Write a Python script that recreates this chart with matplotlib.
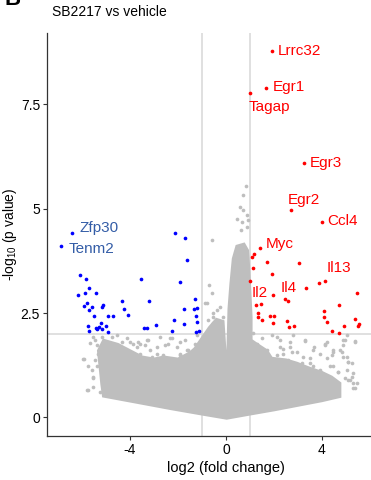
import matplotlib.pyplot as plt

plt.rcParams['font.family'] = ['Liberation Sans', 'DejaVu Sans']
plt.rcParams['mathtext.fontset'] = 'custom'
plt.rcParams['mathtext.rm'] = 'Liberation Sans'

# significant up (red)
up_x = [1.93, 1.67, 1.00, 3.24, 2.72, 3.99, 1.42, 4.12, 3.33, 1.97,
        1.10, 1.16, 1.70, 3.03, 1.11, 1.90, 1.00, 3.875, 2.47, 2.57,
        5.44, 1.24, 1.47, 4.72, 1.33, 4.08, 1.33, 1.49, 1.82, 1.99,
        1.96, 2.53, 2.63, 2.83, 4.08, 4.22, 5.375, 5.55, 5.52, 4.93,
        4.40, 4.72]
up_y = [8.77, 7.89, 7.76, 6.08, 4.96, 4.68, 4.06, 3.27, 3.10, 2.94,
        3.85, 3.92, 3.73, 3.69, 3.58, 3.43, 3.26, 3.22, 2.83, 2.78,
        2.97, 2.69, 2.71, 2.70, 2.49, 2.55, 2.40, 2.33, 2.42, 2.44,
        2.27, 2.32, 2.17, 2.19, 2.41, 2.29, 2.36, 2.24, 2.20, 2.19,
        2.07, 2.03]

# significant down (blue)
down_x = [-6.43, -6.86, -2.125, -1.69, -1.625, -6.08, -5.83, -3.56, -1.92, -5.69,
          -6.18, -5.875, -5.43, -5.81, -5.90, -5.58, -5.71, -5.14, -5.17, -4.33,
          -4.24, -4.07, -3.22, -5.50, -4.93, -4.71, -1.31, -1.33, -1.74, -1.19,
          -1.25, -1.22, -2.17, -1.74, -2.90, -3.40, -3.30, -2.24, -1.25, -1.11,
          -5.75, -5.69, -5.43, -5.29, -5.17, -5.01, -5.21, -4.90, -5.36]
down_y = [4.42, 4.10, 4.41, 4.29, 3.76, 3.42, 3.31, 3.31, 3.24, 3.10,
          2.94, 2.99, 2.99, 2.75, 2.66, 2.64, 2.56, 2.68, 2.64, 2.79,
          2.59, 2.45, 2.79, 2.44, 2.42, 2.44, 2.84, 2.60, 2.60, 2.62,
          2.42, 2.28, 2.33, 2.24, 2.22, 2.13, 2.14, 2.08, 2.05, 2.07,
          2.20, 2.08, 2.13, 2.17, 2.11, 2.20, 2.27, 2.05, 2.12]

# labelled genes
genes = ['Lrrc32', 'Egr1', 'Tagap', 'Egr3', 'Egr2', 'Ccl4', 'Myc',
         'Il13', 'Il4', 'Il2', 'Zfp30', 'Tenm2']
gene_dir = ['up'] * 10 + ['down'] * 2

# dense body of non-significant genes (outline)
cloud_x = [-5.11, -3.7, -2.3, -1.0, 0.03, 1.0, 2.0, 3.0, 4.0, 4.75,
           4.75, 4.4, 4.0, 3.4, 2.96, 2.5, 1.9, 1.7, 1.3, 1.05,
           1.05, 1.0, 0.95, 0.9, 0.75, 0.45, 0.3, 0.2, 0.12, 0.08,
           0.02, -0.04, -0.12, -0.4, -0.7, -1.0, -1.3, -1.5, -2.0, -2.6,
           -3.0, -3.5, -4.0, -4.5, -5.1, -5.32, -5.25, -5.18]
cloud_y = [0.51, 0.36, 0.21, 0.08, -0.02, 0.08, 0.18, 0.29, 0.40, 0.50,
           0.82, 0.97, 1.08, 1.2, 1.3, 1.38, 1.42, 1.6, 1.75, 1.85,
           2.4, 3.0, 3.6, 4.0, 4.15, 4.1, 3.8, 3.2, 2.6, 1.7,
           0.5, 1.6, 2.3, 2.35, 2.15, 1.9, 1.65, 1.55, 1.4, 1.45,
           1.4, 1.45, 1.6, 1.75, 1.85, 1.6, 1.2, 0.8]

# scattered non-significant genes outside the dense body
gray_x = [-5.92, -5.76, -5.60, -5.56, -5.67, -5.46, -5.18, -4.55, -4.00, -3.58,
          -3.24, -2.75, -2.33, -2.05, -1.71, -1.22, -0.67, -0.53, -4.14, -3.17,
          -2.89, -5.32, -4.97, -4.70, -4.35, -3.72, -3.375, -2.54, -1.92, -1.57,
          -2.33, -4.42, -5.46, -5.39, -5.53, -5.25,
          -5.94, -5.81, -5.53, -5.74, -5.53, -5.39, -4.76, -4.14, -3.86, -3.65,
          -3.30, -2.89, -2.40, -2.26, -1.92, -1.92, -1.64, -1.29, -1.15, -2.61,
          -3.10, -4.42, -3.58, -0.80, -0.53, -0.60, -0.39,
          1.49, 1.90, 2.11, 2.67, 2.78, 3.29, 3.67, 4.13, 4.20, 4.47,
          4.89, 4.96, 5.375, 4.82, 5.03, 5.10, 5.24, 5.30, 5.17, 5.44,
          5.30, 4.96, 4.68, 4.33, 3.92, 3.50, 3.22, 2.74, 2.39, 2.25,
          1.76, 1.56, 1.28, 2.80, 3.08, 4.20, 4.40,
          1.14, 1.28, 1.70, 2.25, 2.39, 2.67, 2.94, 3.29, 3.50, 3.64,
          3.92, 4.13, 4.20, 4.47, 4.75, 4.89, 5.03, 5.375, 4.89, 5.10,
          5.03, 5.24, 5.30, 5.375, 5.10, 4.68, 4.47, 4.26, 3.15, 2.60,
          2.11, 1.97, 3.64, 3.92,
          0.83, 0.72, 0.58, 0.72, 0.86, 0.44, 0.65, 0.93, 0.63, 0.86,
          -0.58, -0.69, -0.57, -0.875, -0.25, -0.53, -0.74, -0.46, -0.11, -0.25]
gray_y = [1.39, 0.65, 1.14, 0.94, 1.78, 1.85, 1.93, 1.97, 1.81, 1.77,
          1.85, 1.93, 1.89, 1.69, 1.85, 1.97, 2.09, 2.25, 1.57, 1.61,
          1.53, 1.53, 1.69, 1.73, 1.81, 1.69, 1.73, 1.73, 1.53, 1.61,
          1.38, 1.45, 1.38, 1.22, 0.74, 0.62,
          1.39, 0.66, 0.98, 1.22, 1.93, 1.73, 1.93, 1.89, 1.77, 1.81,
          1.85, 1.69, 1.77, 1.89, 1.81, 1.50, 1.61, 1.77, 1.69, 1.50,
          1.45, 1.53, 1.53, 2.73, 2.41, 2.17, 2.57,
          1.89, 1.97, 1.93, 1.81, 1.97, 1.84, 1.69, 1.73, 1.81, 1.61,
          1.73, 1.85, 1.84, 1.57, 1.45, 1.33, 1.30, 1.06, 0.90, 0.82,
          0.70, 0.94, 1.10, 1.22, 1.14, 1.30, 1.45, 1.57, 1.53, 1.69,
          1.38, 1.45, 1.53, 1.30, 1.14, 0.90, 1.50,
          2.01, 1.77, 1.61, 1.85, 1.65, 1.69, 1.57, 1.85, 1.42, 1.61,
          1.53, 1.77, 1.42, 1.57, 1.61, 1.85, 1.97, 1.81, 1.45, 1.33,
          1.14, 0.98, 0.82, 0.70, 0.90, 1.10, 1.22, 0.94, 1.30, 1.38,
          1.50, 1.26, 1.22, 1.10,
          5.55, 5.32, 5.03, 4.96, 4.84, 4.76, 4.68, 4.72, 4.49, 4.56,
          4.25, 3.16, 2.97, 2.73, 2.65, 2.49, 2.33, 2.25, 2.41, 2.17]

GREY = '#BEBEBE'
RED = '#FF0000'
BLUE = '#0000FF'
BLUE_TXT = '#345DA7'

fig = plt.figure(figsize=(3.71, 4.8), dpi=100)
# panel is wider than the crop: right part falls outside the picture
ax = fig.add_axes([47 / 371, 44 / 480, (405 - 47) / 371, 403 / 480])

ax.axvline(-1, color='#DADADA', lw=1.2, zorder=1)
ax.axvline(1, color='#DADADA', lw=1.2, zorder=1)
ax.axhline(2, color='#DADADA', lw=1.2, zorder=1)

ax.fill(cloud_x, cloud_y, color=GREY, lw=2.0, zorder=2)
ax.scatter(gray_x, gray_y, s=7, color=GREY, lw=0, zorder=2)
ax.scatter(up_x, up_y, s=7, color=RED, lw=0, zorder=3)
ax.scatter(down_x, down_y, s=7, color=BLUE, lw=0, zorder=3)

# label placement: (x, y, ha)
label_xy = [(2.14, 8.77, 'left'), (1.93, 7.91, 'left'), (1.79, 7.42, 'center'),
            (3.47, 6.10, 'left'), (3.24, 5.20, 'center'), (4.22, 4.71, 'left'),
            (1.67, 4.14, 'left'), (4.71, 3.57, 'center'), (2.63, 3.09, 'center'),
            (1.42, 2.99, 'center'), (-6.11, 4.54, 'left'), (-6.57, 4.02, 'left')]
for g, d, (tx, ty, ha) in zip(genes, gene_dir, label_xy):
    ax.text(tx, ty, g, ha=ha, va='center', fontsize=11,
            color=RED if d == 'up' else BLUE_TXT, zorder=4)

ax.set_xlim(-7.46, 7.46)
ax.set_ylim(-0.443, 9.2)
ax.set_xticks([-4, 0, 4])
ax.set_xticklabels(['-4', '0', '4'])
ax.set_yticks([0, 2.5, 5, 7.5])
ax.set_yticklabels(['0', '2.5', '5', '7.5'])
ax.tick_params(length=3, width=0.8, color='#333333', labelsize=10,
               labelcolor='black', pad=2)
for s in ['top', 'right']:
    ax.spines[s].set_visible(False)
for s in ['left', 'bottom']:
    ax.spines[s].set_color('#333333')
    ax.spines[s].set_linewidth(0.9)

ax.set_xlabel('log2 (fold change)', fontsize=10.5, labelpad=3)
ax.set_ylabel(r'-log$_{\mathregular{10}}$ (p value)', fontsize=10, labelpad=1)

fig.text(52 / 371, 1 - 12 / 480, 'SB2217 vs vehicle', ha='left', va='center', fontsize=10)
fig.text(4 / 371, 1 - 5 / 480, 'B', ha='left', va='baseline', fontsize=16,
         fontweight='bold')

fig.savefig('out.png', dpi=100)
